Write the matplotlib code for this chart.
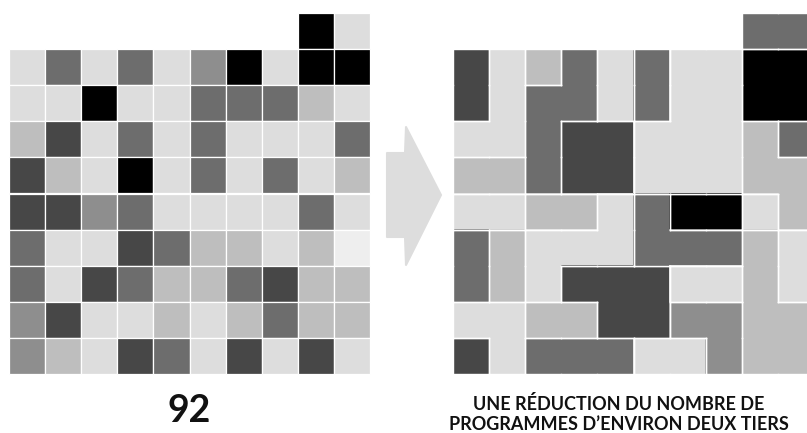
import matplotlib
matplotlib.use("Agg")
import matplotlib.pyplot as plt
from matplotlib.patches import Rectangle, Polygon

# ---------------- data ----------------
# shade codes
shades = {"K": "#000000", "4": "#474747", "6": "#6d6d6d", "8": "#8e8e8e",
          "B": "#bebebe", "D": "#dddddd", "E": "#eeeeee"}

# left grid: 92 individual programmes (row 0 has only the last two cells)
left_rows = [
    "........KD",
    "D6D6D8KDKK",
    "DDKDD666BD",
    "B4D6D6DDD6",
    "4BDKD6D6DB",
    "4486DDDD6D",
    "6DD46BBDBE",
    "6D46BB64BB",
    "84DDBDB6BB",
    "8BD46D4D4D",
]

# right grid: merged programmes (piece ids per cell)
right_pieces = [
    "........aa",
    "bcdefghhii",
    "bceefghhii",
    "ccejjhhhkl",
    "mmejjhhhkk",
    "nnoopqrrsk",
    "tupppqqqvw",
    "tupxxxyyvw",
    "zzAAxxFFvv",
    "CzDDDEEFvv",
]
piece_shade = {"a": "6", "b": "4", "c": "D", "d": "B", "e": "6", "f": "D", "g": "6",
               "h": "D", "i": "K", "j": "4", "k": "B", "l": "6", "m": "B", "n": "D",
               "o": "B", "p": "D", "q": "6", "r": "K", "s": "D", "t": "6", "u": "B",
               "v": "B", "w": "D", "x": "4", "y": "D", "z": "D", "A": "B", "F": "8",
               "C": "4", "D": "6", "E": "D"}

left_label = "92"
right_label = "UNE RÉDUCTION DU NOMBRE DE\nPROGRAMMES D’ENVIRON DEUX TIERS"

# ---------------- layout ----------------
W, H = 807, 433
fig = plt.figure(figsize=(W / 100, H / 100), dpi=100)
ax = fig.add_axes([0, 0, 1, 1])
ax.set_xlim(0, W)
ax.set_ylim(H, 0)
ax.axis("off")

cell = 36.1
top = 13.0
left_x0 = 9.0
right_x0 = 453.0

# left grid
for r, row in enumerate(left_rows):
    for c, ch in enumerate(row):
        if ch == ".":
            continue
        ax.add_patch(Rectangle((left_x0 + c * cell, top + r * cell), cell, cell,
                               facecolor=shades[ch], edgecolor="white", linewidth=0.9))

# right grid: fill cells
for r, row in enumerate(right_pieces):
    for c, pid in enumerate(row):
        if pid == ".":
            continue
        ax.add_patch(Rectangle((right_x0 + c * cell - 0.3, top + r * cell - 0.3), cell + 0.6, cell + 0.6,
                               facecolor=shades[piece_shade[pid]], edgecolor="none"))

# piece borders
nr = len(right_pieces)
nc = len(right_pieces[0])


def pid_at(r, c):
    if 0 <= r < nr and 0 <= c < nc:
        return right_pieces[r][c]
    return "."


for r in range(nr):
    for c in range(nc):
        p = pid_at(r, c)
        if p == ".":
            continue
        x = right_x0 + c * cell
        y = top + r * cell
        kw = dict(color="white", lw=1.0, solid_capstyle="projecting")
        if pid_at(r, c + 1) != p:
            ax.plot([x + cell, x + cell], [y, y + cell], **kw)
        if pid_at(r + 1, c) != p:
            ax.plot([x, x + cell], [y + cell, y + cell], **kw)
        if pid_at(r, c - 1) != p:
            ax.plot([x, x], [y, y + cell], **kw)
        if pid_at(r - 1, c) != p:
            ax.plot([x, x + cell], [y, y], **kw)

# arrow
arrow = Polygon([(387, 153), (405, 153), (406, 127), (441, 195), (406, 265), (405, 237), (387, 237)],
                closed=True, facecolor="#dddddd", edgecolor="#dddddd", linewidth=1.5, joinstyle="round")
ax.add_patch(arrow)

# labels
ax.text(left_x0 + 5 * cell, 411, left_label, ha="center", va="center",
        fontsize=27, fontweight="bold", family="Lato", color="#111111")
ax.text(619, 414, right_label, ha="center", va="center", fontsize=13,
        fontweight="bold", family="Lato", color="#111111", linespacing=1.2)

fig.savefig("out.png", dpi=100)
